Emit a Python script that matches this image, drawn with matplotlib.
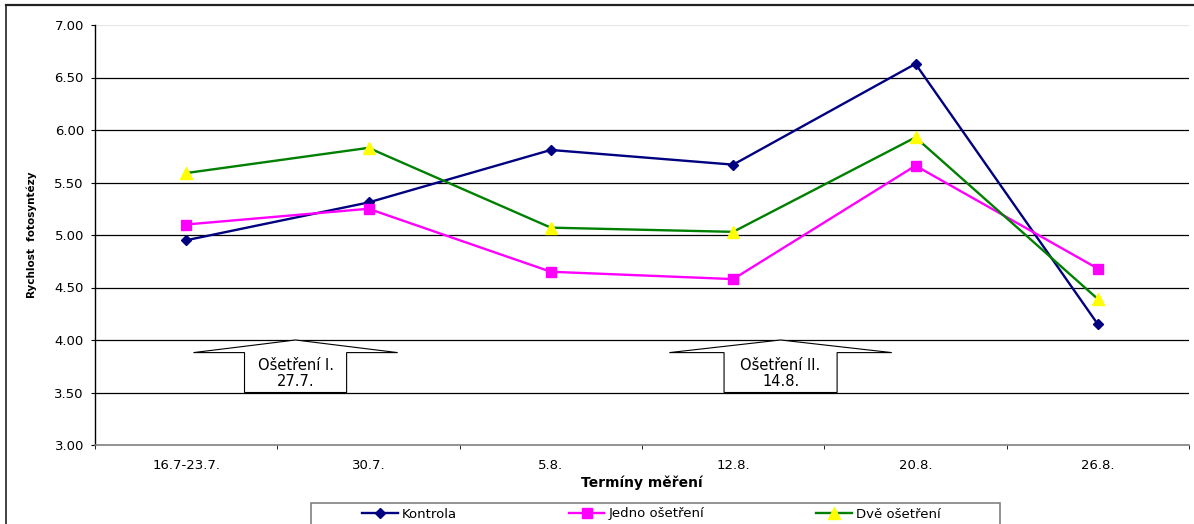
import numpy as np
import matplotlib.pyplot as plt
from matplotlib.patches import Polygon, Rectangle
from matplotlib.lines import Line2D

# Měření rychlosti fotosyntézy v jednotlivých termínech
terminy = ['16.7-23.7.', '30.7.', '5.8.', '12.8.', '20.8.', '26.8.']
kontrola = [4.95, 5.31, 5.81, 5.67, 6.63, 4.15]
jedno = [5.10, 5.25, 4.65, 4.58, 5.66, 4.68]
dve = [5.59, 5.83, 5.07, 5.03, 5.93, 4.39]

# popisky ošetření (šipky)
osetreni = ['Ošetření I.\n27.7.', 'Ošetření II.\n14.8.']
sipka_x = [0.60, 3.26]
sipka_sirka = [0.56, 0.61]
telo_sirka = [0.28, 0.31]

W, H = 1194, 524
fig = plt.figure(figsize=(W / 100, H / 100), dpi=100)
ax = fig.add_axes([95 / W, 1 - 445 / H, 1094 / W, 420 / H])

x = np.arange(len(terminy))
ax.plot(x, kontrola, color='#000080', lw=1.7, marker='D', ms=5.2,
        mfc='#000080', mec='#000080', label='Kontrola', zorder=5)
ax.plot(x, jedno, color='#FF00FF', lw=1.7, marker='s', ms=6.8,
        mfc='#FF00FF', mec='#FF00FF', label='Jedno ošetření', zorder=5)
ax.plot(x, dve, color='#008000', lw=1.7, marker='^', ms=8,
        mfc='#FFFF00', mec='#FFFF00', label='Dvě ošetření', zorder=5)

ax.set_xlim(-0.5, len(terminy) - 0.5)
ax.set_ylim(3, 7)

# mřížka
yt = np.arange(3, 7.01, 0.5)
for v in yt[1:-1]:
    ax.axhline(v, color='black', lw=0.9, zorder=1)
ax.axhline(7, color='#e6e6e6', lw=0.9, zorder=1)

ax.set_yticks(yt)
ax.set_yticklabels(['%.2f' % v for v in yt], fontsize=9.5)
ax.set_xticks(x)
ax.set_xticklabels(terminy, fontsize=9.5)
ax.set_xticks(np.arange(-0.5, len(terminy), 1), minor=True)
ax.tick_params(axis='x', which='major', length=0, pad=10)
ax.tick_params(axis='x', which='minor', length=3, direction='out')
ax.tick_params(axis='y', length=3, direction='out', pad=5)

ax.spines['top'].set_visible(False)
ax.spines['right'].set_visible(False)
ax.spines['bottom'].set_color('#808080')
ax.spines['bottom'].set_linewidth(1.2)
ax.spines['left'].set_linewidth(1)

ax.set_ylabel('Rychlost  fotosyntézy', fontsize=7.5, fontweight='bold')
ax.yaxis.set_label_coords(-0.053, 0.5)
ax.set_xlabel('Termíny měření', fontsize=10, fontweight='bold')
ax.xaxis.set_label_coords(0.5, -0.072)

# šipky s termíny ošetření
for lbl, cx, hw, bw in zip(osetreni, sipka_x, sipka_sirka, telo_sirka):
    pts = [(cx - hw, 3.88), (cx, 4.0), (cx + hw, 3.88), (cx + bw, 3.88),
           (cx + bw, 3.5), (cx - bw, 3.5), (cx - bw, 3.88)]
    ax.add_patch(Polygon(pts, closed=True, fc='white', ec='black', lw=0.8, zorder=3))
    ax.text(cx, 3.68, lbl, ha='center', va='center', fontsize=10.5,
            linespacing=1.15, zorder=4)

# legenda
fig.add_artist(Rectangle((311 / W, -0.05), (1000 - 311) / W, 0.05 + 1 - 503 / H,
                         transform=fig.transFigure, fc='none', ec='#808080',
                         lw=1.2, zorder=-1))
ax.legend(loc='center left', bbox_to_anchor=(362 / W, 1 - 514 / H),
          bbox_transform=fig.transFigure, ncol=3, frameon=False, fontsize=9.5,
          handlelength=2.7, handletextpad=0.3, columnspacing=8.5, borderpad=0,
          borderaxespad=0)

# rámeček
fig.add_artist(Line2D([6 / W, 6 / W], [0, 1 - 5 / H], transform=fig.transFigure,
                      color='#222222', lw=1.2))
fig.add_artist(Line2D([6 / W, 1], [1 - 5 / H, 1 - 5 / H], transform=fig.transFigure,
                      color='#222222', lw=1.6))

fig.savefig('out.png', dpi=100)
